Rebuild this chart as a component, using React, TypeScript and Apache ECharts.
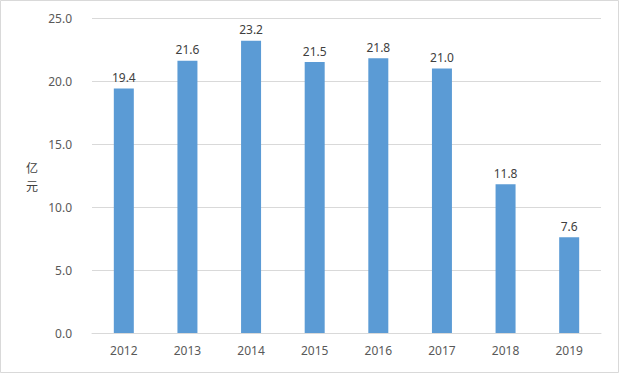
import React, { useEffect, useRef } from "react";
import * as echarts from "echarts";

const categories = ["2012", "2013", "2014", "2015", "2016", "2017", "2018", "2019"];
const values = [19.4, 21.6, 23.2, 21.5, 21.8, 21.0, 11.8, 7.6];
const yAxisNameChars = ["亿", "元"];

export default function App() {
  const ref = useRef<HTMLDivElement>(null);
  useEffect(() => {
    if (!ref.current) return;
    const chart = echarts.init(ref.current, undefined, { renderer: "svg" });
    const font = "'Noto Sans', 'Noto Sans CJK SC', sans-serif";
    chart.setOption({
      animation: false,
      backgroundColor: "#ffffff",
      grid: { left: 92, right: 19, top: 18, bottom: 42, containLabel: false },
      xAxis: {
        type: "category",
        data: categories,
        axisLine: { lineStyle: { color: "#D9D9D9" } },
        axisTick: { show: false },
        axisLabel: { color: "#595959", fontSize: 12, fontFamily: font, margin: 11 },
      },
      yAxis: {
        type: "value",
        min: 0,
        max: 25,
        interval: 5,
        axisLine: { show: false },
        axisTick: { show: false },
        splitLine: { lineStyle: { color: "#D9D9D9" } },
        axisLabel: {
          color: "#595959",
          fontSize: 12,
          fontFamily: font,
          margin: 20,
          formatter: (v: number) => v.toFixed(1),
        },
      },
      graphic: [
        {
          type: "rect",
          shape: { x: 0.5, y: 0.5, width: 618, height: 372 },
          style: { fill: "none", stroke: "#D9D9D9", lineWidth: 1 },
          silent: true,
        },
        ...yAxisNameChars.map((ch, i) => ({
          type: "text",
          x: 32,
          y: 167 + i * 18,
          style: {
            text: ch,
            fill: "#404040",
            font: "12px 'Noto Sans CJK SC', sans-serif",
            lineHeight: 14,
            align: "center",
            verticalAlign: "middle",
          },
        })),
      ],
      series: [
        {
          type: "bar",
          data: values,
          barWidth: 20,
          itemStyle: { color: "#5B9BD5" },
          label: {
            show: true,
            position: "top",
            distance: 5,
            color: "#404040",
            fontSize: 12,
            fontFamily: font,
            formatter: (p: any) => Number(p.value).toFixed(1),
          },
        },
      ],
    });
    return () => chart.dispose();
  }, []);
  return (
    <div
      ref={ref}
      style={{ position: "fixed", left: 0, top: 0, width: 620, height: 375 }}
    />
  );
}
